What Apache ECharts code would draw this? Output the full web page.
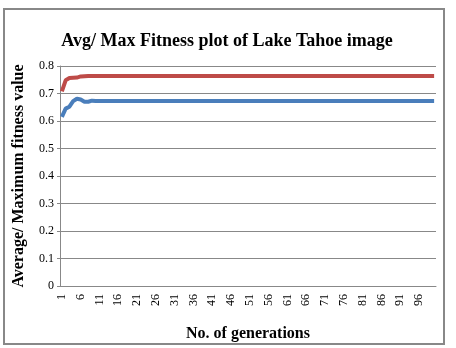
<!DOCTYPE html>
<html>
<head>
<meta charset="utf-8">
<script src="https://cdn.jsdelivr.net/npm/echarts@6/dist/echarts.min.js"></script>
<style>
  html, body { margin: 0; padding: 0; background: #fff; }
  #chart { width: 456px; height: 348px; }
  #frame { position: absolute; left: 3px; top: 8px; width: 438px; height: 333px; border: 2px solid #888; pointer-events: none; }
</style>
</head>
<body>
<div id="chart"></div>
<div id="frame"></div>
<script>
    var generations = [];
    for (var g = 1; g <= 100; g++) generations.push(String(g));

    // max fitness per generation (red)
    var maxFitness = [
        0.708, 0.748, 0.756, 0.757, 0.758, 0.762, 0.763, 0.764, 0.764, 0.764,
        0.764, 0.764, 0.764, 0.764, 0.764, 0.764, 0.764, 0.764, 0.764, 0.764,
        0.764, 0.764, 0.764, 0.764, 0.764, 0.764, 0.764, 0.764, 0.764, 0.764,
        0.764, 0.764, 0.764, 0.764, 0.764, 0.764, 0.764, 0.764, 0.764, 0.764,
        0.764, 0.764, 0.764, 0.764, 0.764, 0.764, 0.764, 0.764, 0.764, 0.764,
        0.764, 0.764, 0.764, 0.764, 0.764, 0.764, 0.764, 0.764, 0.764, 0.764,
        0.764, 0.764, 0.764, 0.764, 0.764, 0.764, 0.764, 0.764, 0.764, 0.764,
        0.764, 0.764, 0.764, 0.764, 0.764, 0.764, 0.764, 0.764, 0.764, 0.764,
        0.764, 0.764, 0.764, 0.764, 0.764, 0.764, 0.764, 0.764, 0.764, 0.764,
        0.764, 0.764, 0.764, 0.764, 0.764, 0.764, 0.764, 0.764, 0.764, 0.764
    ];

    // average fitness per generation (blue)
    var avgFitness = [
        0.615, 0.645, 0.652, 0.672, 0.681, 0.678, 0.670, 0.670, 0.674, 0.673,
        0.673, 0.673, 0.673, 0.673, 0.673, 0.673, 0.673, 0.673, 0.673, 0.673,
        0.673, 0.673, 0.673, 0.673, 0.673, 0.673, 0.673, 0.673, 0.673, 0.673,
        0.673, 0.673, 0.673, 0.673, 0.673, 0.673, 0.673, 0.673, 0.673, 0.673,
        0.673, 0.673, 0.673, 0.673, 0.673, 0.673, 0.673, 0.673, 0.673, 0.673,
        0.673, 0.673, 0.673, 0.673, 0.673, 0.673, 0.673, 0.673, 0.673, 0.673,
        0.673, 0.673, 0.673, 0.673, 0.673, 0.673, 0.673, 0.673, 0.673, 0.673,
        0.673, 0.673, 0.673, 0.673, 0.673, 0.673, 0.673, 0.673, 0.673, 0.673,
        0.673, 0.673, 0.673, 0.673, 0.673, 0.673, 0.673, 0.673, 0.673, 0.673,
        0.673, 0.673, 0.673, 0.673, 0.673, 0.673, 0.673, 0.673, 0.673, 0.673
    ];

    var serif = '"Liberation Serif", "DejaVu Serif", serif';

    var dom = document.getElementById('chart');
    var myChart = echarts.init(dom, null, { renderer: 'canvas' });

    var option = {
        animation: false,
        title: {
            text: 'Avg/ Max Fitness plot of Lake Tahoe image',
            left: 222,
            top: 27,
            textAlign: 'center',
            textStyle: { fontFamily: serif, fontSize: 18, fontWeight: 'bold', color: '#000' }
        },
        grid: { left: 60, right: 20, top: 66, bottom: 62 },
        xAxis: {
            type: 'category',
            data: generations,
            boundaryGap: true,
            name: 'No. of generations',
            nameLocation: 'middle',
            nameGap: 40,
            nameTextStyle: { fontFamily: serif, fontSize: 16, fontWeight: 'bold', color: '#000' },
            axisLine: { lineStyle: { color: '#888', width: 1 } },
            axisTick: { interval: 0, length: 3, lineStyle: { color: '#888' } },
            axisLabel: { interval: 4, rotate: 90, margin: 8, fontFamily: serif, fontSize: 12, color: '#000' },
            splitLine: { show: false }
        },
        yAxis: {
            type: 'value',
            min: 0,
            max: 0.8,
            interval: 0.1,
            name: 'Average/ Maximum fitness value',
            nameLocation: 'middle',
            nameGap: 33,
            nameTextStyle: { fontFamily: serif, fontSize: 16, fontWeight: 'bold', color: '#000' },
            axisLine: { show: true, lineStyle: { color: '#888', width: 1 } },
            axisTick: { show: true, length: 3, lineStyle: { color: '#888' } },
            axisLabel: { margin: 6, fontFamily: serif, fontSize: 12, color: '#000' },
            splitLine: { lineStyle: { color: '#888', width: 1 } }
        },
        series: [
            {
                name: 'Max',
                type: 'line',
                data: maxFitness,
                showSymbol: false,
                lineStyle: { color: '#BE4B48', width: 4 },
                itemStyle: { color: '#BE4B48' }
            },
            {
                name: 'Avg',
                type: 'line',
                data: avgFitness,
                showSymbol: false,
                lineStyle: { color: '#4A7EBB', width: 4 },
                itemStyle: { color: '#4A7EBB' }
            }
        ]
    };

    option && myChart.setOption(option);
</script>
</body>
</html>
